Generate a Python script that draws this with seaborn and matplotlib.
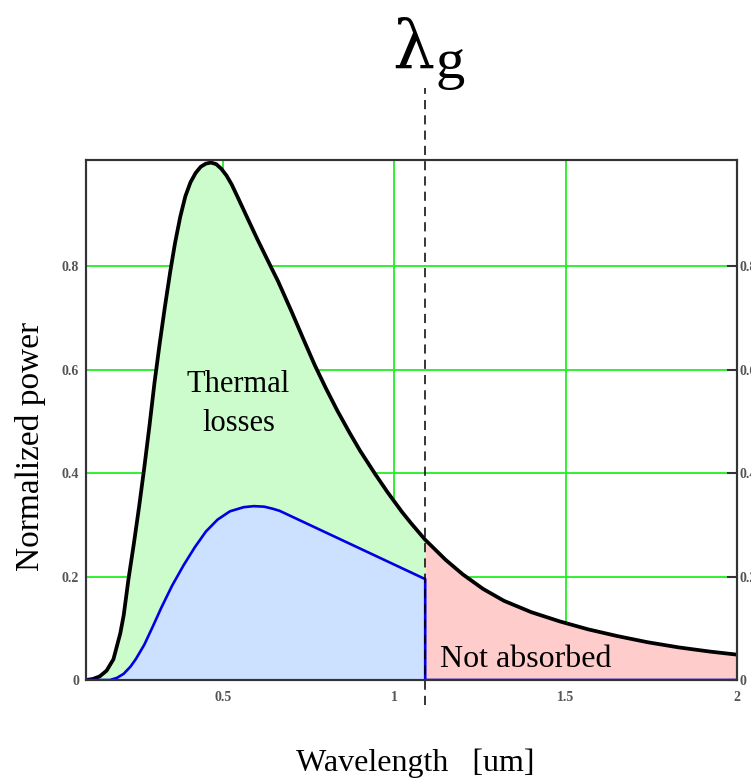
import matplotlib
matplotlib.use("Agg")
import matplotlib.pyplot as plt
import pandas as pd
import seaborn as sns

# ---------------------------------------------------------------- 데이터
LAMBDA_G = 1.09

# 정규화된 태양 스펙트럼 (검은 곡선)
spec_x = [0.10, 0.12, 0.14, 0.16, 0.18, 0.20, 0.21, 0.224, 0.24, 0.255,
          0.27, 0.285, 0.30, 0.315, 0.33, 0.346, 0.36, 0.375, 0.39, 0.405,
          0.42, 0.435, 0.45, 0.465, 0.48, 0.495, 0.51, 0.525, 0.545, 0.571,
          0.60, 0.62, 0.64, 0.661, 0.70, 0.735, 0.768, 0.80, 0.834, 0.87,
          0.90, 0.944, 0.98, 1.022, 1.05, 1.09, 1.15, 1.20, 1.259, 1.32,
          1.40, 1.484, 1.565, 1.65, 1.739, 1.83, 1.92, 2.0]
spec_y = [0.000, 0.002, 0.007, 0.018, 0.040, 0.090, 0.125, 0.195, 0.265, 0.335,
          0.410, 0.490, 0.575, 0.650, 0.720, 0.790, 0.845, 0.895, 0.935, 0.962,
          0.980, 0.992, 0.998, 1.000, 0.997, 0.988, 0.975, 0.958, 0.930, 0.893,
          0.852, 0.825, 0.798, 0.770, 0.712, 0.658, 0.608, 0.564, 0.520, 0.477,
          0.443, 0.398, 0.363, 0.325, 0.302, 0.271, 0.232, 0.204, 0.176, 0.153,
          0.131, 0.113, 0.098, 0.085, 0.073, 0.063, 0.055, 0.049]

# 실제로 쓰이는 전력 (파란 곡선)
used_x = [0.10, 0.17, 0.19, 0.21, 0.23, 0.245, 0.27, 0.294, 0.32, 0.351,
          0.385, 0.418, 0.45, 0.484, 0.52, 0.56, 0.59, 0.62, 0.645, 0.665,
          1.09, 1.09, 2.0]
used_y = [0.000, 0.000, 0.004, 0.012, 0.026, 0.040, 0.068, 0.102, 0.140, 0.182,
          0.222, 0.257, 0.287, 0.310, 0.326, 0.334, 0.336, 0.335, 0.331, 0.327,
          0.195, 0.000, 0.000]

x_ticks = [0.5, 1, 1.5, 2]
x_ticklabels = ["0.5", "1", "1.5", "2"]
y_ticks = [0, 0.2, 0.4, 0.6, 0.8]
y_ticklabels = ["0", "0.2", "0.4", "0.6", "0.8"]

BLACK = "#000000"
BLUE = "#0000e6"
GRID = "#22ee22"
FILL_GREEN = "#ccfccc"
FILL_BLUE = "#cce0ff"
FILL_RED = "#ffcccc"
SERIF = ["Liberation Serif", "DejaVu Serif"]

sns.set_theme(style="white")
plt.rcParams["font.family"] = SERIF
plt.rcParams["text.color"] = "black"

spec = pd.DataFrame({"x": spec_x, "y": spec_y})
used = pd.DataFrame({"x": used_x, "y": used_y})

W, H = 751, 783
fig = plt.figure(figsize=(W / 100, H / 100), dpi=100)
ax = fig.add_axes([86 / W, 1 - 680 / H, (737 - 86) / W, (680 - 160) / H])

# 채우기: 열손실 (초록), 사용 전력 (파랑), 미흡수 (빨강)
left = spec[spec["x"] <= LAMBDA_G]
right = spec[spec["x"] >= LAMBDA_G]
ax.fill_between(left["x"], 0, left["y"], color=FILL_GREEN, lw=0, zorder=1)
ax.fill_between(used["x"], 0, used["y"], color=FILL_BLUE, lw=0, zorder=1.1)
ax.fill_between(right["x"], 0, right["y"], color=FILL_RED, lw=0, zorder=1)

sns.lineplot(data=spec, x="x", y="y", ax=ax, color=BLACK, lw=2.7, sort=False,
             estimator=None, zorder=3)
sns.lineplot(data=used, x="x", y="y", ax=ax, color=BLUE, lw=1.9, sort=False,
             estimator=None, zorder=3)

# λg 점선 (축 밖까지 이어짐)
ax.plot([LAMBDA_G, LAMBDA_G], [-0.048, 1.144], color="black", lw=1.1,
        ls=(0, (6, 4)), clip_on=False, zorder=4)
fig.text(392 / W, 1 - 68 / H, "λ", fontsize=48, ha="left", va="baseline",
         family=["DejaVu Serif"])
fig.text(436 / W, 1 - 78 / H, "g", fontsize=42, ha="left", va="baseline")

ax.text(0.545, 0.5565, "Thermal", fontsize=22, ha="center", va="baseline", zorder=5)
ax.text(0.545, 0.481, "losses", fontsize=22, ha="center", va="baseline", zorder=5)
ax.text(1.132, 0.025, "Not absorbed", fontsize=23, ha="left", va="baseline", zorder=5)

ax.set_xlim(0.1, 2.0)
ax.set_ylim(0, 1.005)
ax.set_xticks(x_ticks)
ax.set_xticklabels(x_ticklabels)
ax.set_yticks(y_ticks)
ax.set_yticklabels(y_ticklabels)
ax.grid(True, color=GRID, lw=1.3)
ax.set_axisbelow(True)
ax.tick_params(axis="both", length=0, labelsize=10, labelcolor="#555555")
ax.tick_params(axis="x", pad=8)
ax.tick_params(axis="y", pad=5)
for lab in ax.get_xticklabels() + ax.get_yticklabels():
    lab.set_fontweight("bold")

ax2 = ax.twinx()
ax2.set_ylim(ax.get_ylim())
ax2.set_yticks(y_ticks)
ax2.set_yticklabels(y_ticklabels)
ax2.tick_params(axis="y", direction="in", length=7, width=1.5, color="#333333",
                labelsize=10, labelcolor="#555555", pad=2)
for lab in ax2.get_yticklabels():
    lab.set_fontweight("bold")
ax2.grid(False)

for a in (ax, ax2):
    for s in a.spines.values():
        s.set_color("#333333")
        s.set_linewidth(1.5)

ax.set_xlabel("")
ax.set_ylabel("")
fig.text(415 / W, 1 - 763 / H, "Wavelength   [um]", fontsize=23, ha="center", va="center")
fig.text(31 / W, 1 - 446 / H, "Normalized power", fontsize=24, ha="center",
         va="center", rotation=90)

fig.savefig("out.png", dpi=100)
